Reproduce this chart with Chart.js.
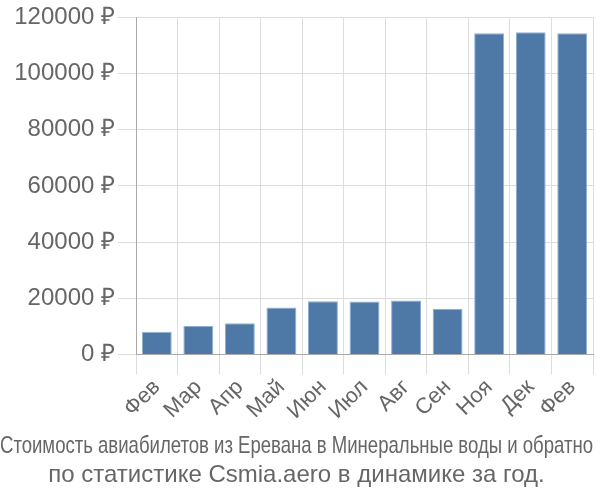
<!DOCTYPE html>
<html>
<head>
<meta charset="utf-8">
<script src="https://cdn.jsdelivr.net/npm/chart.js@4"></script>
<style>
html,body{margin:0;padding:0;background:#fff;}
#wrap{width:600px;height:500px;}
</style>
</head>
<body>
<div id="wrap"><canvas id="c" width="600" height="500"></canvas></div>
<script>
const categories = ["Фев","Мар","Апр","Май","Июн","Июл","Авг","Сен","Ноя","Дек","Фев"];
const prices = [8070, 10070, 11120, 16740, 18950, 18840, 19190, 16280, 114400, 114700, 114400];
const yTicks = [0, 20000, 40000, 60000, 80000, 100000, 120000];
const titleLines = ["Стоимость авиабилетов из Еревана в Минеральные воды и обратно", "по статистике Csmia.aero в динамике за год."];

const FONT = "'Liberation Sans', Arial, sans-serif";

new Chart(document.getElementById('c'), {
  type: 'bar',
  data: {
    labels: categories,
    datasets: [{
      data: prices,
      backgroundColor: '#4e79a7',
      borderColor: '#8fb0d3',
      borderWidth: 1,
      barPercentage: 0.72,
      categoryPercentage: 1.0
    }]
  },
  options: {
    responsive: false,
    animation: false,
    layout: {padding: {left: 0, right: 7, top: 15, bottom: 0}},
    plugins: {
      legend: {display: false},
      tooltip: {enabled: false},
      title: {
        display: true,
        position: 'bottom',
        text: titleLines,
        color: '#666',
        font: {family: FONT, size: 24, weight: 'normal', lineHeight: 1.2},
        padding: {top: 0, bottom: 10}
      }
    },
    scales: {
      x: {
        afterFit: (s) => { s.height = 78; },
        grid: {color: '#dddddd', tickLength: 20, drawTicks: true},
        border: {color: '#aaaaaa'},
        ticks: {color: '#666', font: {family: FONT, size: 22}, autoSkip: false, maxRotation: 45, minRotation: 45, padding: 0}
      },
      y: {
        min: 0, max: 120000,
        afterBuildTicks: (s) => { s.ticks = yTicks.map(v => ({value: v})); },
        afterFit: (s) => { s.width = 136; },
        grid: {color: '#dddddd', tickLength: 18},
        border: {color: '#aaaaaa'},
        ticks: {color: '#666', font: {family: FONT, size: 24}, padding: 3, callback: (v) => v + ' ₽'}
      }
    }
  }
});
</script>
</body>
</html>
